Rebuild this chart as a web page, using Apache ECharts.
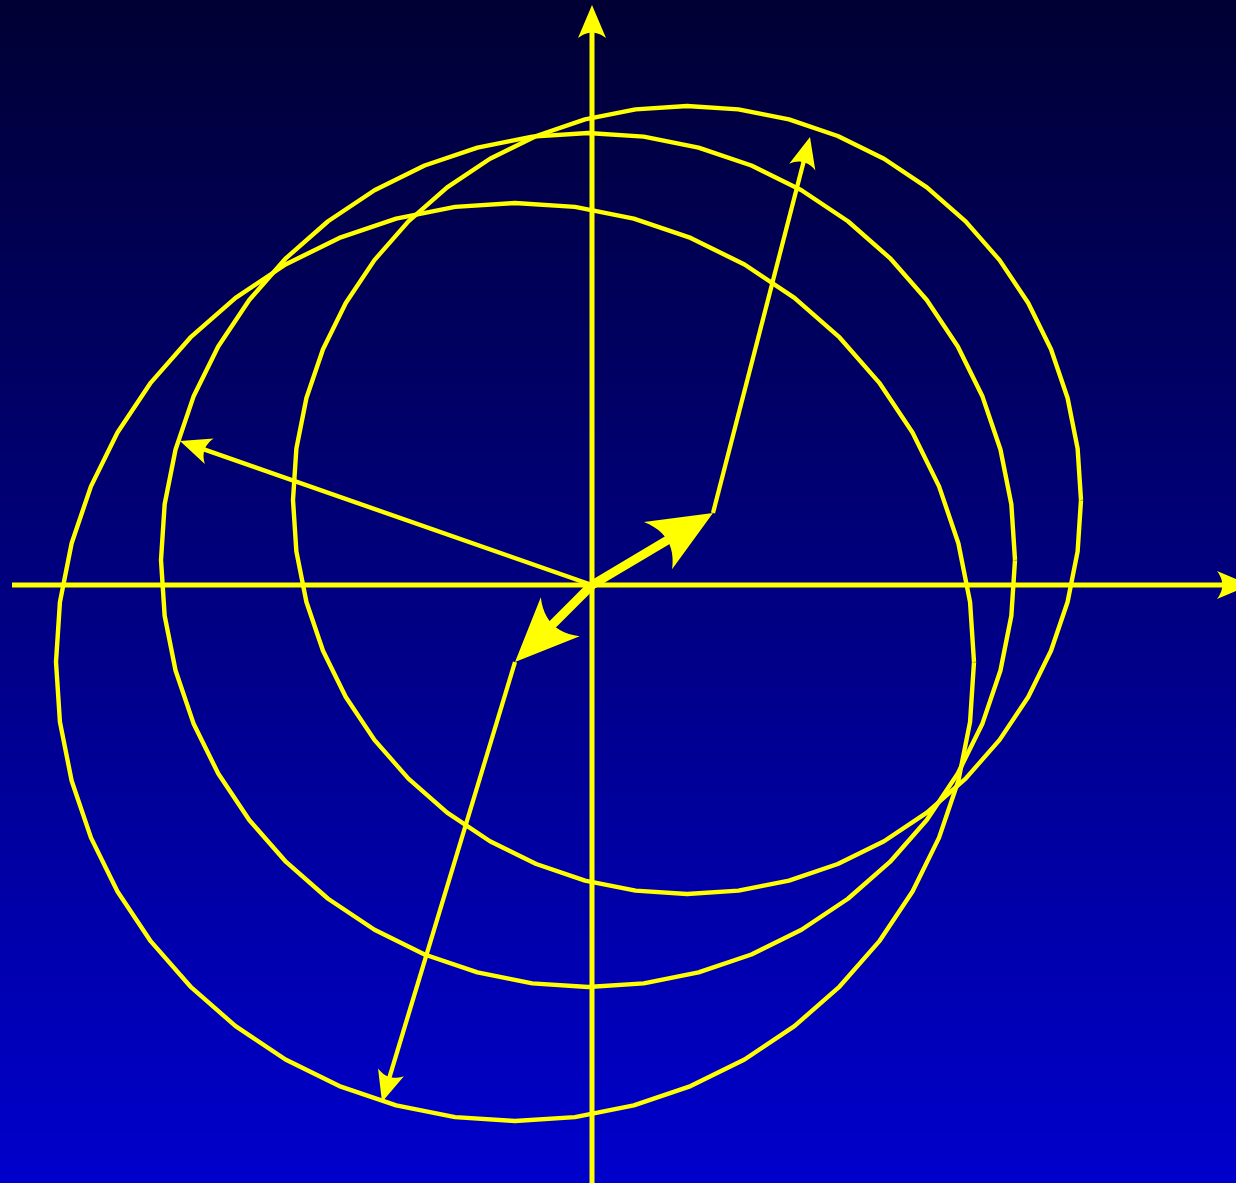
<!DOCTYPE html>
<html>
<head>
<meta charset="utf-8">
<script src="https://cdn.jsdelivr.net/npm/echarts@6/dist/echarts.min.js"></script>
<style>
html,body{margin:0;padding:0;background:#000080;overflow:hidden;}
#chart{width:1236px;height:1183px;}
</style>
</head>
<body>
<div id="chart"></div>
<script>
// ---- Data (diagram units, origin at the crossing of the two axes, y up) ----
// Circles: centre and radius
const circleNames = ['circle 1', 'circle 2', 'circle 3'];
const circleCenterX = [-4, 95, -77];
const circleCenterY = [25, 85, -77];
const circleRadius = [427, 394, 459];
const circleSides = 48; // the circles are drawn as 48-sided polygons

// Vectors (arrows): start point, end (tip) point, kind
const vectorNames = ['x axis', 'y axis', 'radius 1', 'offset 2', 'radius 2', 'offset 3', 'radius 3'];
const vectorStartX = [-580, 0, 0, 0, 121, 0, -77];
const vectorStartY = [0, -610, 0, 0, 72, 0, -77];
const vectorEndX = [658, 0, -412, 121, 218, -77, -210];
const vectorEndY = [0, 580, 144, 72, 448, -77, -517];
const vectorKind = ['axis', 'axis', 'thin', 'thick', 'thin', 'thick', 'thin'];

// Axis extent (hidden value axes)
const xRange = [-592, 644];
const yRange = [-598, 585];

// ---- Styles ----
const YELLOW = '#ffff00';
const KIND_STYLE = {
  axis:  { shaft: 5, head: 33, width: 28, notch: 0.16 },
  thin:  { shaft: 4.3, head: 31, width: 27, notch: 0.16 },
  thick: { shaft: 9, head: 64, width: 55, notch: 0.17 }
};

// ---- Build series ----
const circleSeries = circleNames.map(function (name, i) {
  const pts = [];
  for (let k = 0; k <= circleSides; k++) {
    const a = 2 * Math.PI * k / circleSides;
    pts.push([circleCenterX[i] + circleRadius[i] * Math.cos(a),
              circleCenterY[i] + circleRadius[i] * Math.sin(a)]);
  }
  return {
    name: name,
    type: 'line',
    data: pts,
    showSymbol: false,
    symbol: 'none',
    smooth: false,
    silent: true,
    clip: false,
    lineStyle: { color: YELLOW, width: 4.4, join: 'round' },
    z: 2
  };
});

const vectorData = vectorNames.map(function (n, i) {
  return { name: n, value: [vectorStartX[i], vectorStartY[i], vectorEndX[i], vectorEndY[i]] };
});

function renderVector(params, api) {
  const s = KIND_STYLE[vectorKind[params.dataIndex]];
  const p0 = api.coord([api.value(0), api.value(1)]);
  const p1 = api.coord([api.value(2), api.value(3)]);
  const dx = p1[0] - p0[0], dy = p1[1] - p0[1];
  const len = Math.sqrt(dx * dx + dy * dy);
  const ux = dx / len, uy = dy / len;
  const nx = -uy, ny = ux;
  const L = s.head, W = s.width / 2;
  const bx = p1[0] - ux * L, by = p1[1] - uy * L;
  const c1 = [bx + nx * W, by + ny * W];
  const c2 = [bx - nx * W, by - ny * W];
  const cd = L * (1 - 2 * s.notch);
  const ctrl = [p1[0] - ux * cd, p1[1] - uy * cd];
  const pts = [[p1[0], p1[1]], c1];
  const steps = 12;
  for (let i = 1; i < steps; i++) {
    const t = i / steps;
    const a = (1 - t) * (1 - t), b = 2 * t * (1 - t), c = t * t;
    pts.push([a * c1[0] + b * ctrl[0] + c * c2[0], a * c1[1] + b * ctrl[1] + c * c2[1]]);
  }
  pts.push(c2);
  const se = [p1[0] - ux * L * 0.5, p1[1] - uy * L * 0.5];
  return {
    type: 'group',
    children: [
      {
        type: 'line',
        shape: { x1: p0[0], y1: p0[1], x2: se[0], y2: se[1] },
        style: { stroke: YELLOW, lineWidth: s.shaft, lineCap: 'butt' }
      },
      {
        type: 'polygon',
        shape: { points: pts },
        style: { fill: YELLOW, stroke: null }
      }
    ]
  };
}

const chart = echarts.init(document.getElementById('chart'), null, { renderer: 'canvas' });
chart.setOption({
  animation: false,
  backgroundColor: {
    type: 'linear', x: 0, y: 0, x2: 0, y2: 1,
    colorStops: [
      { offset: 0, color: '#000033' },
      { offset: 1, color: '#0000cc' }
    ]
  },
  grid: { left: 0, right: 0, top: 0, bottom: 0, containLabel: false },
  xAxis: {
    type: 'value', min: xRange[0], max: xRange[1], show: false,
    splitLine: { show: false }
  },
  yAxis: {
    type: 'value', min: yRange[0], max: yRange[1], show: false,
    splitLine: { show: false }
  },
  tooltip: { show: false },
  series: circleSeries.concat([{
    name: 'vectors',
    type: 'custom',
    renderItem: renderVector,
    data: vectorData,
    encode: { x: [0, 2], y: [1, 3] },
    clip: false,
    silent: true,
    z: 3
  }])
});
</script>
</body>
</html>
